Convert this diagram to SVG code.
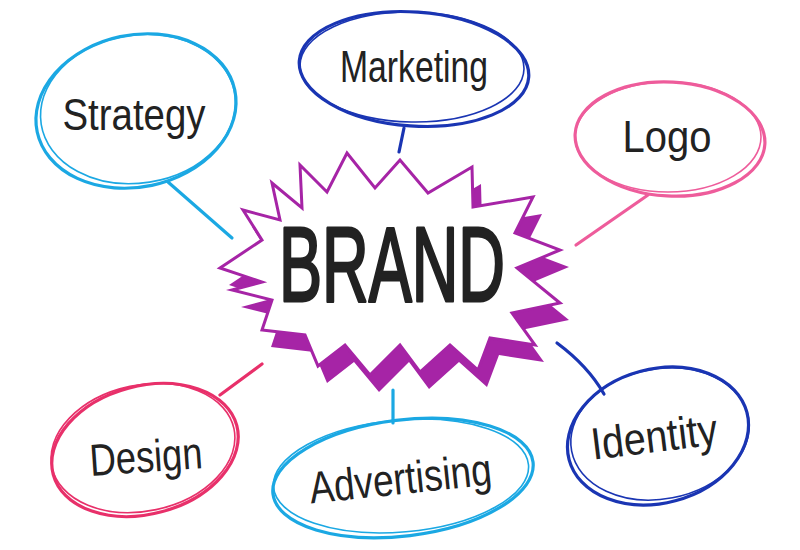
<svg xmlns="http://www.w3.org/2000/svg" width="800" height="550" viewBox="0 0 800 550">
<style>
.bg{fill:#ffffff}
.e1{fill:none;stroke-width:3.2;stroke-linecap:round}
.e2{fill:none;stroke-width:1.6;stroke-linecap:round}
.lbl{font-family:"Liberation Sans",Arial,sans-serif;font-size:45px;fill:#222;text-anchor:middle}
.brand{font-family:"Liberation Sans",Arial,sans-serif;font-size:106px;fill:#222;stroke:#222;stroke-width:3;stroke-linejoin:round;text-anchor:middle}
.con{fill:none;stroke-width:3.2;stroke-linecap:round}
.sky{stroke:#1ba8e3}
.navy{stroke:#1a35b3}
.pink{stroke:#ee5c9b}
.red{stroke:#e8306a}
</style>
<rect class="bg" x="0" y="0" width="800" height="550"/>
<g id="connectors">
<path class="con sky" d="M168,182 L232,238"/>
<path class="con navy" d="M404,128 L399,152"/>
<path class="con pink" d="M648,195 L576,245"/>
<path class="con red" d="M220,395 L262,364"/>
<path class="con sky" d="M393,390 L393,423"/>
<path class="con navy" d="M557,343 Q588,366 604,394"/>
</g>
<g id="brand">
<polygon transform="translate(9,17)" fill="#a624a6" points="220,268 262,240 243,210 280,220 272,183 302,208 300,165 327,192 347,153 375,188 400,160 428,193 472,167 473,207 533,197 515,233 560,250 517,268 560,303 512,313 535,345 490,338 478,370 450,345 420,372 400,345 370,375 345,345 318,366 305,335 262,330 272,300 232,290 262,282"/>
<polygon fill="#ffffff" stroke="#a624a6" stroke-width="3" stroke-linejoin="miter" points="220,268 262,240 243,210 280,220 272,183 302,208 300,165 327,192 347,153 375,188 400,160 428,193 472,167 473,207 533,197 515,233 560,250 517,268 560,303 512,313 535,345 490,338 478,370 450,345 420,372 400,345 370,375 345,345 318,366 305,335 262,330 272,300 232,290 262,282"/>
<text class="brand" x="392" y="301" textLength="226" lengthAdjust="spacingAndGlyphs">BRAND</text>
</g>
<g id="strategy">
<ellipse class="e1 sky" cx="136" cy="111" rx="101" ry="76" transform="rotate(-12 136 111)"/>
<ellipse class="e2 sky" cx="138" cy="109" rx="98" ry="74" transform="rotate(-9 138 109)"/>
<text class="lbl" x="134" y="130" textLength="143" lengthAdjust="spacingAndGlyphs">Strategy</text>
</g>
<g id="marketing">
<ellipse class="e1 navy" cx="414" cy="69" rx="115" ry="57" transform="rotate(4 414 69)"/>
<ellipse class="e2 navy" cx="412" cy="67" rx="112" ry="55" transform="rotate(1 412 67)"/>
<text class="lbl" x="414" y="82" textLength="148" lengthAdjust="spacingAndGlyphs">Marketing</text>
</g>
<g id="logo">
<ellipse class="e1 pink" cx="670" cy="139" rx="95" ry="57" transform="rotate(3 670 139)"/>
<ellipse class="e2 pink" cx="668" cy="137" rx="93" ry="55" transform="rotate(0 668 137)"/>
<text class="lbl" x="667" y="152" textLength="89" lengthAdjust="spacingAndGlyphs">Logo</text>
</g>
<g id="design">
<ellipse class="e1 red" cx="145" cy="450" rx="95" ry="64" transform="rotate(-15 145 450)"/>
<ellipse class="e2 red" cx="143" cy="448" rx="93" ry="63" transform="rotate(-12 143 448)"/>
<text class="lbl" x="147" y="472" textLength="113" lengthAdjust="spacingAndGlyphs" transform="rotate(-4 147 472)">Design</text>
</g>
<g id="advertising">
<ellipse class="e1 sky" cx="403" cy="478" rx="131" ry="58" transform="rotate(-7 403 478)"/>
<ellipse class="e2 sky" cx="401" cy="476" rx="128" ry="56" transform="rotate(-5 401 476)"/>
<text class="lbl" x="402" y="494" textLength="183" lengthAdjust="spacingAndGlyphs" transform="rotate(-6 402 494)">Advertising</text>
</g>
<g id="identity">
<ellipse class="e1 navy" cx="658" cy="436" rx="92" ry="67" transform="rotate(-15 658 436)"/>
<ellipse class="e2 navy" cx="660" cy="434" rx="90" ry="65" transform="rotate(-11 660 434)"/>
<text class="lbl" x="656" y="452" textLength="127" lengthAdjust="spacingAndGlyphs" transform="rotate(-7 656 452)">Identity</text>
</g>
</svg>
